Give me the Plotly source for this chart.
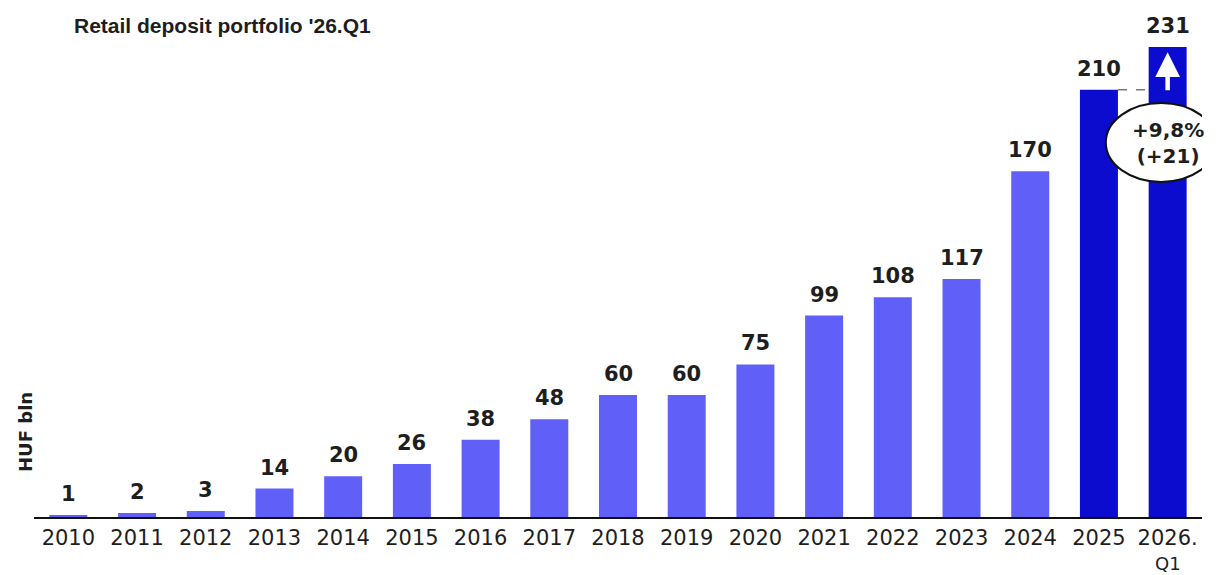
import plotly.graph_objects as go

# Retail deposit portfolio, HUF bln (year-end, last bar = 2026 Q1)
years = ["2010", "2011", "2012", "2013", "2014", "2015", "2016", "2017", "2018",
         "2019", "2020", "2021", "2022", "2023", "2024", "2025", "2026."]
last_period_suffix = "Q1"
deposits = [1, 2, 3, 14, 20, 26, 38, 48, 60, 60, 75, 99, 108, 117, 170, 210, 231]
change_text = "+9,8%<br>(+21)"

LIGHT = "#6060F8"
DARK = "#0C0CCE"
TEXT = "#1e1e1e"
colors = [LIGHT] * (len(deposits) - 2) + [DARK, DARK]

idx = list(range(len(years)))
bar_frac = 0.553

fig = go.Figure(go.Bar(
    x=idx, y=deposits, marker=dict(color=colors, line=dict(width=0)),
    width=bar_frac, hoverinfo="skip",
))

# value labels above each bar
for i, v in zip(idx, deposits):
    fig.add_annotation(x=i, y=v, text=str(v), showarrow=False, yanchor="middle",
                       yshift=21, font=dict(family="DejaVu Sans", size=21,
                                            color=TEXT, weight="bold"))

last, prev = idx[-1], idx[-2]

# second line of the last category label ("2026." / "Q1")
fig.add_annotation(x=last, y=(517 - 563) / 477, xref="x", yref="paper",
                   text=last_period_suffix, showarrow=False, yanchor="middle",
                   borderpad=0, borderwidth=0,
                   font=dict(family="DejaVu Sans", size=18, color=TEXT))

# dashed connector from the 2025 level to the 2026 Q1 bar
fig.add_shape(type="line", xref="x", yref="y",
              x0=prev + bar_frac / 2, x1=last - bar_frac / 2,
              y0=deposits[-2], y1=deposits[-2],
              line=dict(color="#777777", width=1.5, dash="dash"))

# white growth arrow inside the last bar
fig.add_annotation(x=last, y=deposits[-1] - 2.5, ax=last, ay=deposits[-2] - 1,
                   xref="x", yref="y", axref="x", ayref="y", text="",
                   showarrow=True, arrowhead=2, arrowsize=1.1, arrowwidth=4.5,
                   arrowcolor="white", standoff=0, startstandoff=0)

# growth callout ellipse
fig.add_shape(type="circle", xref="x", yref="y",
              x0=last - 0.90, x1=last + 0.71,
              y0=deposits[-2] - 45.3, y1=deposits[-2] - 6.5,
              fillcolor="white", line=dict(color="#111111", width=2))
fig.add_annotation(x=last, y=deposits[-2] - 26, text=change_text, showarrow=False,
                   xref="x", yref="y", yanchor="middle",
                   font=dict(family="DejaVu Sans", size=20, color=TEXT, weight="bold"))

# chart title and unit label
fig.add_annotation(xref="paper", yref="paper", x=(72 - 34) / 1168, y=(517 - 25) / 477,
                   xanchor="left", yanchor="middle", showarrow=False,
                   text="Retail deposit portfolio '26.Q1",
                   font=dict(family="Liberation Sans", size=21, color=TEXT, weight="bold"))
fig.add_annotation(xref="paper", yref="paper", x=(25 - 34) / 1168, y=(517 - 432) / 477,
                   xanchor="center", yanchor="middle", showarrow=False, textangle=-90,
                   text="HUF bln",
                   font=dict(family="DejaVu Sans", size=18, color=TEXT, weight="bold"))

fig.update_layout(
    width=1221, height=575,
    margin=dict(l=34, r=19, t=40, b=58, autoexpand=False),
    plot_bgcolor="white", paper_bgcolor="white",
    showlegend=False,
    xaxis=dict(tickmode="array", tickvals=idx, ticktext=years,
               range=[-0.5, len(years) - 0.5], automargin=False,
               showline=True, linecolor="#111111", linewidth=2,
               showgrid=False, zeroline=False, ticks="", ticklabelstandoff=1,
               tickfont=dict(family="DejaVu Sans", size=21, color=TEXT)),
    yaxis=dict(range=[0, 234.5], visible=False, showgrid=False, zeroline=False,
               automargin=False),
)

fig.write_html("out.html")
